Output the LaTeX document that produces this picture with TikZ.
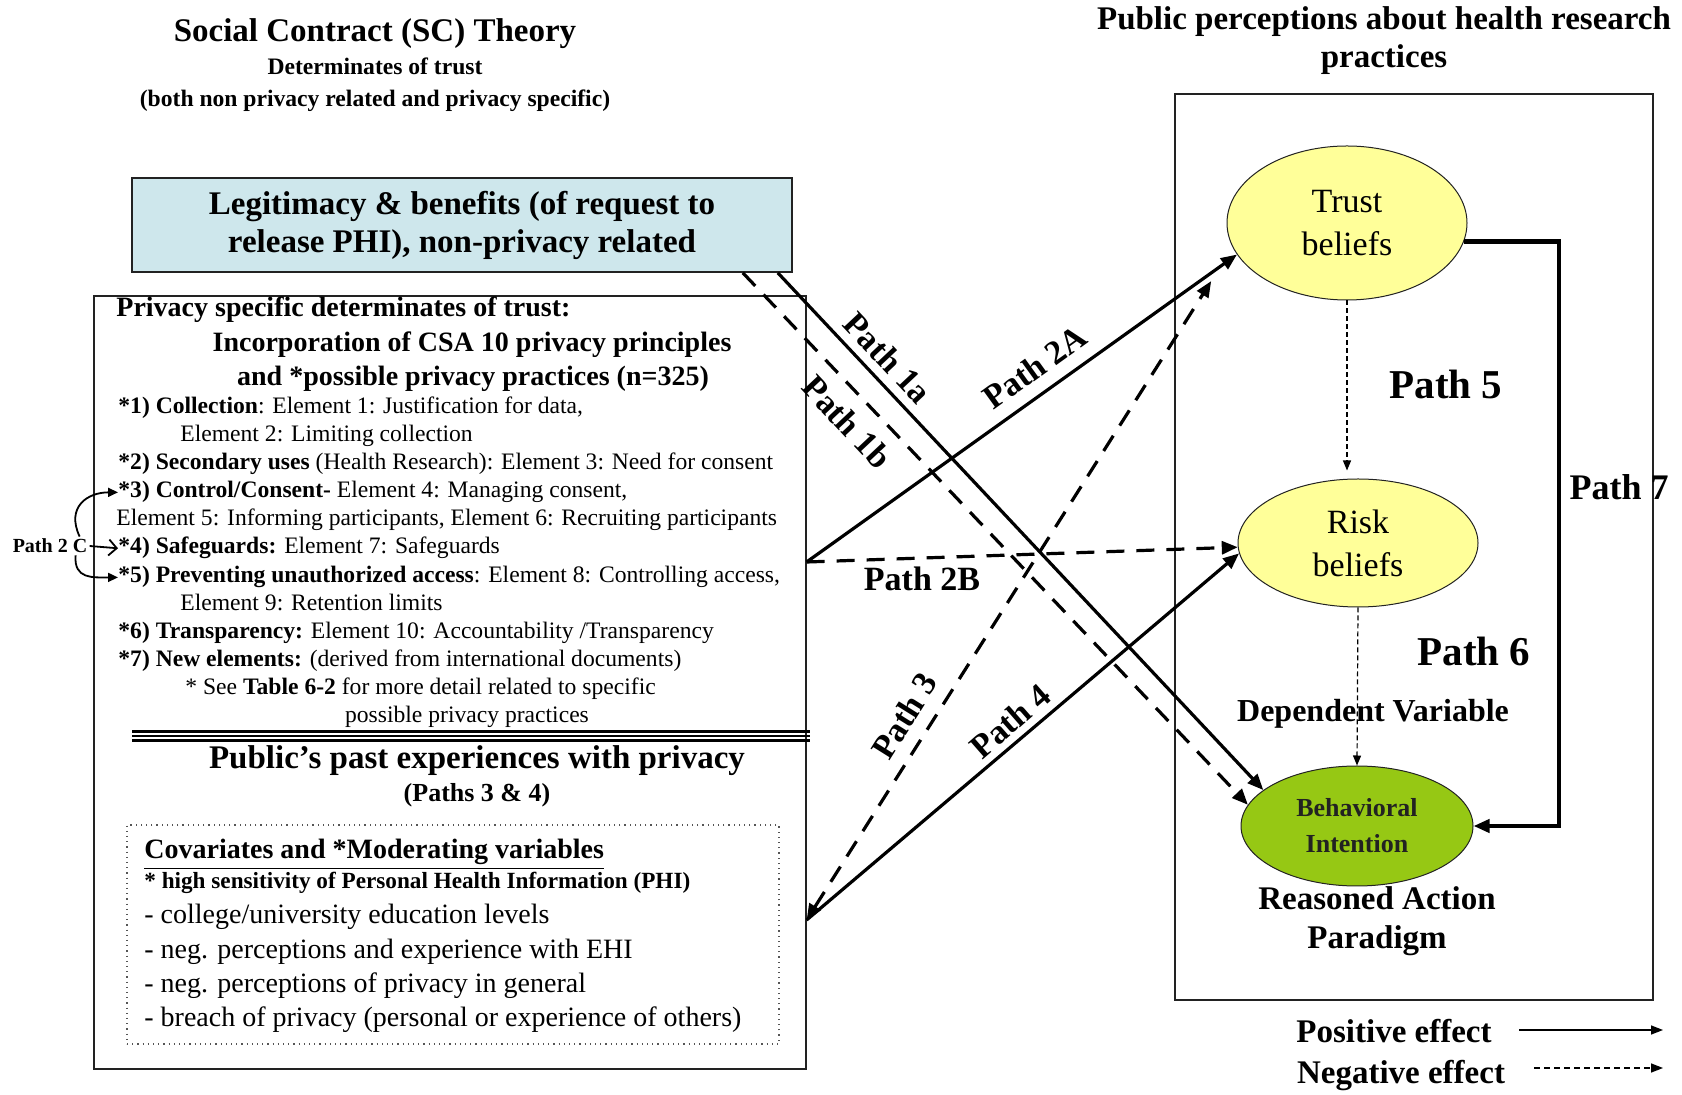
\documentclass[tikz,border=0pt]{standalone}
\usepackage{fontspec}
\setmainfont{Liberation Serif}
\usepackage{tikz}
\usetikzlibrary{shapes.geometric,arrows.meta,positioning,calc}
\definecolor{scLegit}{RGB}{206,231,236}
\definecolor{scBelief}{RGB}{255,255,153}
\definecolor{scIntent}{RGB}{150,200,20}
\definecolor{scInk}{HTML}{222222}
\definecolor{scMuted}{HTML}{555555}
\tikzset{
    % Text
    scTitle/.style={font=\bfseries\fontsize{16.5}{19}\selectfont, align=center, inner sep=0pt},
    scSub/.style={font=\bfseries\fontsize{11.8}{13}\selectfont, align=center, inner sep=0pt},
    scHead/.style={anchor=base, inner sep=0pt, font=\bfseries\fontsize{14}{16}\selectfont},
    scItem/.style={anchor=base west, inner sep=0pt, font=\fontsize{11.8}{14}\selectfont},
    scCov/.style={anchor=base west, inner sep=0pt, font=\fontsize{14}{16}\selectfont},
    scPathLabel/.style={font=\bfseries\fontsize{17}{20}\selectfont, inner sep=0pt},
    scBigLabel/.style={font=\bfseries\fontsize{20.5}{24}\selectfont, inner sep=0pt},
    % Boxes and ellipses
    scFrame/.style={draw=scInk, line width=0.6pt, inner sep=0pt},
    scBeliefBase/.style={ellipse, draw=scInk, line width=0.5pt, fill=scBelief, inner sep=0pt,
        align=center, font=\fontsize{17}{21.5}\selectfont},
    scIntentBase/.style={ellipse, draw=scInk, line width=0.5pt, fill=scIntent, inner sep=0pt,
        align=center, text=scInk, font=\bfseries\fontsize{13}{18}\selectfont},
    % Arrows
    scArrowBase/.style={line width=1.6pt, -{Triangle[length=8pt,width=6.5pt]}},
    scPos/.style={scArrowBase},
    scNeg/.style={scArrowBase, dash pattern=on 9pt off 6pt},
    scThinNeg/.style={line width=0.6pt, dash pattern=on 2.5pt off 1.5pt, -{Triangle[length=5pt,width=4pt]}},
    scSmallArrow/.style={line width=0.9pt, -{Triangle[length=5pt,width=4.5pt]}}
}

\begin{document}
\begin{tikzpicture}[x=0.5pt, y=-0.5pt]
\useasboundingbox (0,0) rectangle (1682,1095);

% left titles
\node[scTitle] (sctitle) at (375,34) {Social Contract (SC) Theory};
\node[scSub] (sctrust) at (375,66) {Determinates of trust};
\node[scSub] (scboth) at (375,101) {(both non privacy related and privacy specific)};

\node[scTitle, scFrame, line width=0.8pt, fill=scLegit, minimum width=330pt, minimum height=47pt] (legit) at (462,225)
    {Legitimacy \& benefits (of request to\\release PHI), non-privacy related};

% privacy box
\node[scFrame, minimum width=356pt, minimum height=386.5pt] (privbox) at (450,682.5) {};
\node[scHead, anchor=base west] (privhead) at (116,317) {Privacy specific determinates of trust:};
\node[scHead] (csahead) at (472,352) {Incorporation of CSA 10 privacy principles};
\node[scHead] (practhead) at (473,386) {and *possible privacy practices (n=325)};
\node[scItem] (itemone) at (118,414) {\textbf{*1) Collection}: Element 1: Justification for data,};
\node[scItem] (itemoneb) at (180,442) {Element 2: Limiting collection};
\node[scItem] (itemtwo) at (118,470) {\textbf{*2) Secondary uses} (Health Research): Element 3: Need for consent};
\node[scItem] (itemthree) at (118,498) {\textbf{*3) Control/Consent-} Element 4: Managing consent,};
\node[scItem] (itemthreeb) at (116,526) {Element 5: Informing participants, Element 6: Recruiting participants};
\node[scItem] (itemfour) at (118,554) {\textbf{*4) Safeguards:} Element 7: Safeguards};
\node[scItem] (itemfive) at (118,583) {\textbf{*5) Preventing unauthorized access}: Element 8: Controlling access,};
\node[scItem] (itemfiveb) at (180,611) {Element 9: Retention limits};
\node[scItem] (itemsix) at (118,639) {\textbf{*6) Transparency:} Element 10: Accountability /Transparency};
\node[scItem] (itemseven) at (118,667) {\textbf{*7) New elements:} (derived from international documents)};
\node[scItem] (seenote) at (185,695) {* See \textbf{Table 6-2} for more detail related to specific};
\node[scItem, anchor=base] (seenoteb) at (467,723) {possible privacy practices};

\foreach \yy/\lw in {731.5/1.6pt, 736/0.8pt, 740.5/1.6pt}
    \draw[line width=\lw] (132,\yy) -- (810,\yy);

% past experiences
\node[scTitle] (pasthead) at (477,761) {Public’s past experiences with privacy};
\node[scTitle, font=\bfseries\fontsize{13}{15}\selectfont] (pastsub) at (477,795) {(Paths 3 \& 4)};
\node[draw=scMuted, dotted, line width=0.6pt, minimum width=326pt, minimum height=109.5pt, inner sep=0pt] (covbox) at (453,934.5) {};
\node[scCov, font=\bfseries\fontsize{14}{16}\selectfont] (covhead) at (144,859) {\underline{Covariates and *Moderating variables}};
\node[scCov, font=\bfseries\fontsize{11.6}{14}\selectfont] (covphi) at (144,889) {* high sensitivity of Personal Health Information (PHI)};
\node[scCov] (coved) at (144,924) {- college/university education levels};
\node[scCov] (covehi) at (144,958) {- neg. perceptions and experience with EHI};
\node[scCov] (covgen) at (144,993) {- neg. perceptions of privacy in general};
\node[scCov] (covbreach) at (144,1026) {- breach of privacy (personal or experience of others)};

% path 2 C
\node[font=\bfseries\fontsize{10}{12}\selectfont, inner sep=1pt] (pathtwoc) at (50,546) {Path 2 C};
\draw[scSmallArrow] ([xshift=-5pt]pathtwoc.north east) .. controls +(-14,-30) and +(-30,0) .. (itemthree.west);
\draw[scSmallArrow] ([xshift=-7pt]pathtwoc.south east) .. controls +(-2,24) and +(-25,0) .. (itemfive.west);
\draw[line width=0.9pt, -{Straight Barb[length=4pt]}] (pathtwoc.east) -- (itemfour.west);

% right side
\node[scTitle] (rptitle) at (1384,41) {Public perceptions about health research\\practices};
\node[scFrame, minimum width=239pt, minimum height=453pt] (rbox) at (1414,547) {};
\node[scBeliefBase, minimum width=120pt, minimum height=77pt] (trust) at (1347,223) {Trust\\beliefs};
\node[scBeliefBase, minimum width=120pt, minimum height=64pt] (risk) at (1358,543) {Risk\\beliefs};
\node[scIntentBase, minimum width=116pt, minimum height=60pt] (behav) at (1357,826) {Behavioral\\Intention};
\node[scBigLabel] (pathfive) at (1446,384) {Path 5};
\node[scBigLabel] (pathsix) at (1474,651) {Path 6};
\node[scPathLabel, font=\bfseries\fontsize{18}{20}\selectfont] (pathseven) at (1619,487) {Path 7};
\node[scTitle, font=\bfseries\fontsize{16}{19}\selectfont] (depvar) at (1373,714) {Dependent Variable};
\node[scTitle, font=\bfseries\fontsize{16.5}{19.5}\selectfont] (reasoned) at (1377,921) {Reasoned Action\\Paradigm};

\draw[scThinNeg, shorten >=4pt] (trust.south) -- (trust.south |- risk.north);
\draw[scThinNeg] (risk.south) -- (behav.north);
\draw[line width=2.2pt, -{Triangle[length=8pt,width=6.5pt]}] (trust.-9) -- ++(95,0) |- (behav.east);

% crossing paths
\coordinate (oneAstart) at ([xshift=-7.5pt]legit.south east);
\coordinate (oneBstart) at ([xshift=-25pt]legit.south east);
\coordinate (twoStart) at (privbox.east |- 0,562);
\coordinate (pastStart) at (privbox.east |- 0,920);
\draw[scPos] (oneAstart) -- (behav.159);
\draw[scNeg] (oneBstart) -- (behav.169);
\draw[scPos] (twoStart) -- (trust.196);
\draw[scNeg] (twoStart) -- (risk.182);
\draw[scNeg, {Triangle[length=8pt,width=6.5pt]}-{Triangle[length=8pt,width=6.5pt]}, shorten >=20pt] (pastStart) -- (trust.192);
\draw[scPos] (pastStart) -- (risk.185);

\node[scPathLabel, rotate=-46.8] (pathonea) at (888,358) {Path 1a};
\node[scPathLabel, rotate=-46.8] (pathoneb) at (847,422) {Path 1b};
\node[scPathLabel, rotate=35.8] (pathtwoa) at (1035,367) {Path 2A};
\node[scPathLabel] (pathtwob) at (922,579) {Path 2B};
\node[scPathLabel, rotate=57.9] (paththree) at (904,716) {Path 3};
\node[scPathLabel, rotate=41.2] (pathfour) at (1010,721) {Path 4};

% legend
\node[scTitle] (poslabel) at (1394,1031) {Positive effect};
\node[scTitle] (neglabel) at (1401,1076) {Negative effect};
\coordinate (posStart) at (1519,1030);
\coordinate (posEnd) at (1663,1030);
\coordinate (negStart) at (1534,1068);
\coordinate (negEnd) at (1663,1068);
\draw[line width=0.8pt, -{Triangle[length=6pt,width=4.5pt]}] (posStart) -- (posEnd);
\draw[line width=0.8pt, dash pattern=on 3pt off 2pt, -{Triangle[length=6pt,width=4.5pt]}] (negStart) -- (negEnd);
\end{tikzpicture}
\end{document}
